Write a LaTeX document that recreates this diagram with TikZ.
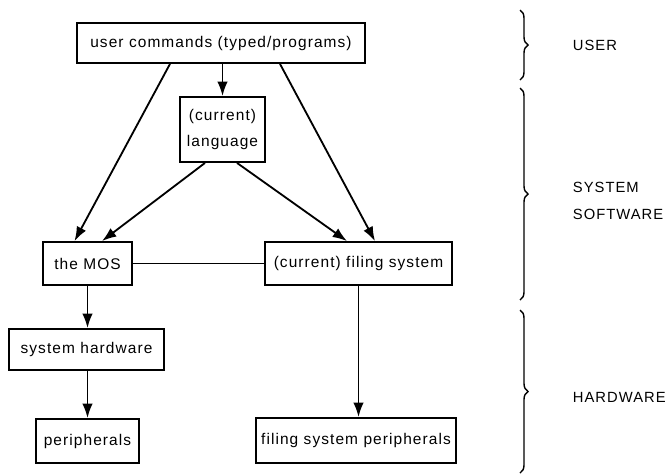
\documentclass[tikz,border=0pt]{standalone}
\usepackage{fontspec}
\setmainfont{Liberation Sans}[LetterSpace=7]
\usetikzlibrary{calc, arrows.meta, positioning, decorations.pathreplacing}

\begin{document}
\begin{tikzpicture}[x=0.025cm, y=-0.025cm, font=\fontsize{11}{19}\selectfont,
	>={Latex[length=3.6mm, width=2.6mm]}, line width=1.3pt,
	box/.style={draw, rectangle, inner sep=0pt, align=center}]
	\useasboundingbox (0,0) rectangle (670,475);
	% boxes
	\node[box, minimum width=7.2cm, minimum height=1cm](user) at (221,43) {user commands (typed/programs)};
	\node[box, minimum width=2.125cm, minimum height=1.625cm](lang) at (222.5,129.5) {(current)\\language};
	\node[box, minimum width=2.225cm, minimum height=1.075cm](mos) at (87.5,263.5) {the MOS};
	\node[box, minimum width=4.675cm, minimum height=1.075cm](filing) at (358.5,263.5) {(current) filing system};
	\node[box, minimum width=3.875cm, minimum height=1.025cm](syshw) at (86.5,349.5) {system hardware};
	\node[box, minimum width=2.575cm, minimum height=1.1cm](periph) at (87.5,441) {peripherals};
	\node[box, minimum width=5cm, minimum height=1.125cm](fperiph) at (356,440.5) {filing system peripherals};
	% arrows
	\draw[->] (lang.north |- user.south) -- (lang.north);
	\draw[->] ($(user.south)+(-51,0)$) -- ($(mos.north)+(-13,0)$);
	\draw[->] ($(user.south)+(59,0)$) -- ($(filing.north)+(16.5,0)$);
	\draw[->] ($(lang.south)+(-17.5,0)$) -- ($(mos.north)+(14.5,0)$);
	\draw[->] ($(lang.south)+(14.5,0)$) -- ($(filing.north)+(-11.5,0)$);
	\draw (mos.east) -- (filing.west);
	\draw[->] (mos.south) -- (mos.south |- syshw.north);
	\draw[->] (mos.south |- syshw.south) -- (mos.south |- periph.north);
	\draw[->] (filing.south) -- (filing.south |- fperiph.north);
	% braces, levels
	\foreach \N/\Ya/\Yb/\Yt/\T in {user/10/80/45/{USER},
								   soft/88/300/201/{SYSTEM\\SOFTWARE},
								   hard/310/473/397/{HARDWARE}} {
		\draw[decorate, decoration={brace, amplitude=0.2cm}, line width=1pt] (520,\Ya) -- (520,\Yb);
		\node[anchor=west, align=left, inner sep=0pt, font=\fontsize{10.5}{19}\selectfont](level\N) at (572,\Yt) {\T};
	}
\end{tikzpicture}
\end{document}
